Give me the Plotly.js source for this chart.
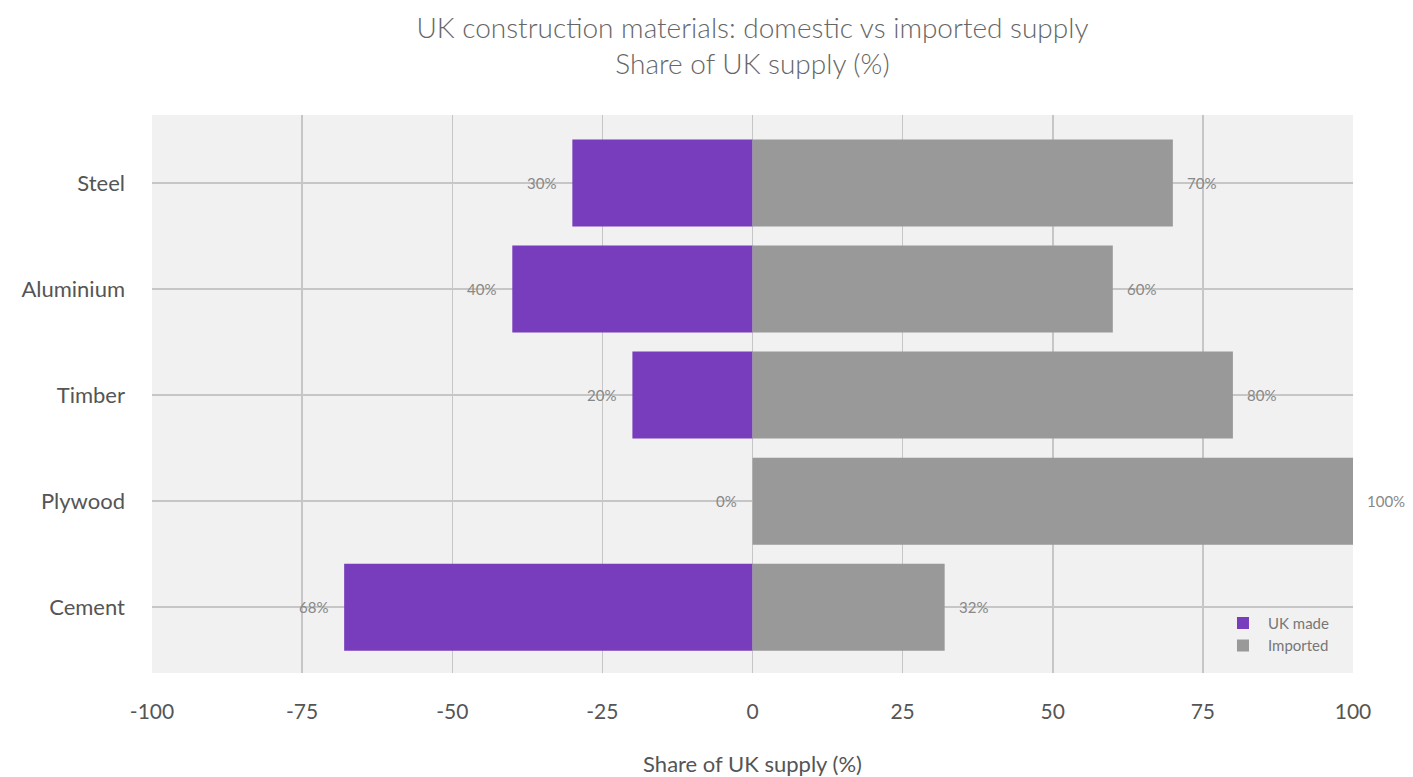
<!DOCTYPE html>
<html>
<head>
<meta charset="utf-8">
<script src="https://cdn.plot.ly/plotly-3.0.1.min.js"></script>
<style>html,body{margin:0;padding:0;background:#fff;}#chart{width:1413px;height:777px;}</style>
</head>
<body>
<div id="chart"></div>
<script>
const categories = ["Steel", "Aluminium", "Timber", "Plywood", "Cement"];
const ukMade = [30, 40, 20, 0, 68];
const imported = [70, 60, 80, 100, 32];
const xTicks = [-100, -75, -50, -25, 0, 25, 50, 75, 100];

const font = "Lato, 'Open Sans', sans-serif";
const labelFont = {size: 15, color: "#888", family: font};

const traces = [
  {
    type: "bar", orientation: "h", name: "UK made",
    y: categories, x: ukMade.map(v => -v),
    marker: {color: "#783dbc"}, hoverinfo: "skip"
  },
  {
    type: "bar", orientation: "h", name: "Imported",
    y: categories, x: imported,
    marker: {color: "#999999"}, hoverinfo: "skip"
  }
];

const annotations = [];
categories.forEach((c, i) => {
  annotations.push({
    x: -ukMade[i], y: c, xref: "x", yref: "y", text: ukMade[i] + "%",
    showarrow: false, xanchor: "right", yanchor: "middle", xshift: -14,
    font: labelFont
  });
  annotations.push({
    x: imported[i], y: c, xref: "x", yref: "y", text: imported[i] + "%",
    showarrow: false, xanchor: "left", yanchor: "middle", xshift: 12,
    font: labelFont
  });
});

const layout = {
  width: 1413, height: 777,
  margin: {l: 152, r: 60, t: 115, b: 104},
  paper_bgcolor: "#ffffff", plot_bgcolor: "#f1f1f1",
  font: {family: font, color: "#555"},
  barmode: "relative", bargap: 0.18,
  title: {
    text: "UK construction materials: domestic vs imported supply<br>Share of UK supply (%)",
    x: 0.5, xanchor: "center", xref: "paper", yref: "container", y: 0.951, yanchor: "middle",
    font: {size: 28, color: "#666", family: font, weight: 300}
  },
  xaxis: {
    range: [-100, 100], tickvals: xTicks, ticktext: xTicks.map(String),
    showgrid: true, gridcolor: "#c6c6c6", gridwidth: 1.5, zeroline: false,
    tickfont: {size: 21, color: "#555"}, ticks: "", ticklabelstandoff: 24,
    title: {text: "Share of UK supply (%)", font: {size: 22, color: "#555"}, standoff: 42},
    fixedrange: true
  },
  yaxis: {
    categoryorder: "array", categoryarray: categories, autorange: false,
    range: [4.62, -0.64],
    showgrid: true, gridcolor: "#c6c6c6", gridwidth: 1.5,
    tickfont: {size: 22, color: "#555"}, ticks: "", ticklabelstandoff: 26,
    fixedrange: true
  },
  legend: {
    x: 0.985, y: 0.02, xanchor: "right", yanchor: "bottom",
    bgcolor: "rgba(0,0,0,0)", font: {size: 15, color: "#777", family: font},
    tracegroupgap: 0, itemwidth: 40
  },
  annotations: annotations,
  showlegend: true
};

Plotly.newPlot("chart", traces, layout, {displayModeBar: false, staticPlot: true});
</script>
</body>
</html>
